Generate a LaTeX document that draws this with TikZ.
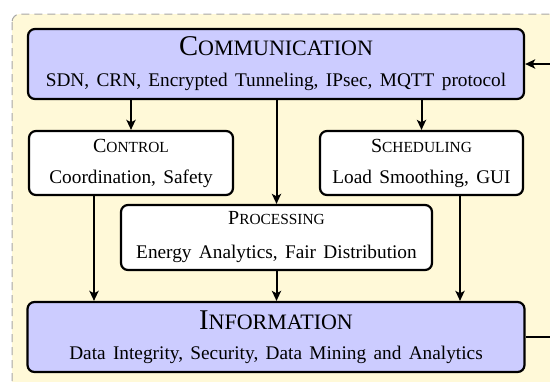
\documentclass[tikz,border=0pt]{standalone}
\usepackage{fontspec}
\setmainfont{Liberation Serif}
\usetikzlibrary{arrows.meta,calc}
\definecolor{bgyellow}{RGB}{255,249,216}
\definecolor{boxblue}{RGB}{204,204,255}
\newcommand\bigsc[2]{{\fontsize{14.3}{16}\selectfont #1\fontsize{11}{16}\selectfont #2}}
\newcommand\smallsc[2]{{\fontsize{10}{12}\selectfont #1\fontsize{7.7}{12}\selectfont #2}}
\newcommand\boxfont{\fontsize{9.65}{12}\selectfont\spaceskip=0.38em plus 0.1em minus 0.05em\relax}
\begin{document}
\begin{tikzpicture}[x=0.5pt,y=-0.5pt,
  box/.style={draw=black,line width=1.1pt,rounded corners=3.5pt,align=center,inner sep=0pt,
    font=\boxfont},
  bluebox/.style={box,fill=boxblue},
  whitebox/.style={box,fill=white},
  arr/.style={line width=1pt,-{Stealth[length=5pt,width=4.6pt,inset=1.2pt]}}]
\useasboundingbox (0,0) rectangle (550,381);
\begin{scope}
\clip (0,0) rectangle (550,381);
\draw[gray!70,dash pattern=on 4pt off 2.5pt,line width=0.5pt,fill=bgyellow,rounded corners=4pt] (12,14) rectangle (580,400);
\end{scope}
\node[bluebox,minimum width=248pt,minimum height=35pt] (comm) at (276,64)
  {\bigsc{C}{OMMUNICATION}\\[3.5pt] SDN, CRN, Encrypted Tunneling, IPsec, MQTT protocol};
\node[whitebox,minimum width=102pt,minimum height=32pt] (ctrl) at (131,163)
  {\smallsc{C}{ONTROL}\\[3.5pt] Coordination, Safety\rule[-1.5pt]{0pt}{1pt}};
\node[whitebox,minimum width=101.5pt,minimum height=32pt] (sched) at (421.5,163)
  {\smallsc{S}{CHEDULING}\\[3.5pt] Load Smoothing, GUI\rule[-1.5pt]{0pt}{1pt}};
\node[whitebox,minimum width=155.5pt,minimum height=32.5pt] (proc) at (276.5,237.5)
  {\smallsc{P}{ROCESSING}\\[5pt] Energy Analytics, Fair Distribution};
\node[bluebox,minimum width=248.5pt,minimum height=35pt] (info) at (276,337)
  {\bigsc{I}{NFORMATION}\\[3pt] Data Integrity, Security, Data Mining and Analytics};
\coordinate (lx) at (94,250);
\coordinate (rx) at (460,250);
\draw[arr] (comm.south -| ctrl) -- (ctrl.north);
\draw[arr] (comm.south -| proc) -- (proc.north);
\draw[arr] (comm.south -| sched) -- (sched.north);
\draw[arr] (ctrl.south -| lx) -- (info.north -| lx);
\draw[arr] (proc.south) -- (info.north -| proc);
\draw[arr] (sched.south -| rx) -- (info.north -| rx);
\draw[arr] (info.east) -- ++(25,0) |- (comm.east);
\end{tikzpicture}
\end{document}
